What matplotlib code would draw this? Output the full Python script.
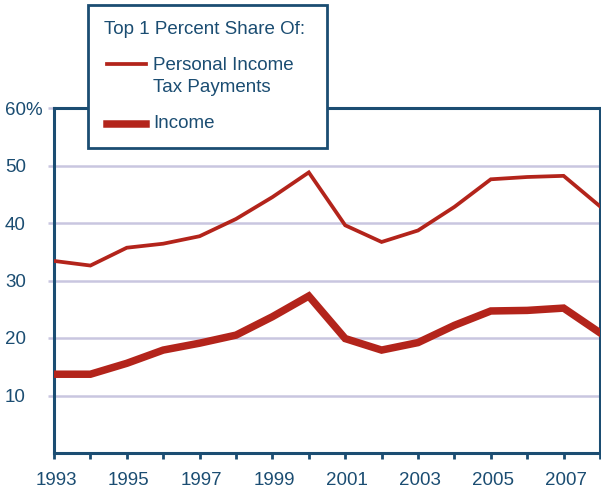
import matplotlib
matplotlib.use("Agg")
import matplotlib.pyplot as plt
import matplotlib.transforms as mtransforms
from matplotlib.lines import Line2D
from matplotlib.patches import Rectangle

plt.rcParams['font.family'] = ['Liberation Sans', 'DejaVu Sans']

years = list(range(1993, 2009))
tax_share = [33.4, 32.6, 35.7, 36.4, 37.7, 40.7, 44.5, 48.8,
             39.6, 36.7, 38.7, 42.8, 47.6, 48.0, 48.2, 42.9]
income_share = [13.7, 13.7, 15.6, 17.9, 19.1, 20.5, 23.7, 27.3,
                19.9, 17.9, 19.2, 22.2, 24.7, 24.8, 25.2, 20.9]
ytick_vals = [10, 20, 30, 40, 50, 60]
ytick_labels = ['10', '20', '30', '40', '50', '60%']

navy = '#1b4d72'
red = '#b3241b'
grid_c = '#c9c6e0'
fs = 13.5

fig = plt.figure(figsize=(6.01, 4.92), dpi=100)
ax = fig.add_axes([54 / 601, 39 / 492, 546 / 601, 345 / 492])

ax.plot(years, tax_share, color=red, lw=2.7, solid_joinstyle='miter', zorder=3)
ax.plot(years, income_share, color=red, lw=5.4, solid_joinstyle='miter', zorder=3)

ax.set_xlim(1993, 2008)
ax.set_ylim(0, 60)

for v in ytick_vals[:-1]:
    ax.axhline(v, color=grid_c, lw=1.8, zorder=1)

ax.set_xticks(years)
ax.set_xticklabels([str(y) if y % 2 == 1 else '' for y in years])
ax.set_yticks(ytick_vals)
ax.set_yticklabels(ytick_labels)
for lab in ax.get_yticklabels():
    lab.set_horizontalalignment('left')

ax.tick_params(axis='x', direction='out', length=4, width=2, color=navy,
               labelcolor=navy, labelsize=fs, pad=10)
ax.tick_params(axis='y', direction='out', length=4.5, width=1.8, color=grid_c,
               labelcolor=navy, labelsize=fs, pad=30.8)
ax.get_yticklines()[-2].set_color(navy)

# nudge year labels slightly right, as in the original
shift = mtransforms.ScaledTranslation(2 / 100, 0, fig.dpi_scale_trans)
for lab in ax.get_xticklabels():
    lab.set_transform(lab.get_transform() + shift)

for s in ax.spines.values():
    s.set_color(navy)
    s.set_linewidth(2.2)

# legend box
fig.patches.append(Rectangle((88 / 601, 1 - 148 / 492), (327 - 88) / 601, (148 - 5) / 492,
                             transform=fig.transFigure, facecolor='white',
                             edgecolor=navy, lw=2, zorder=5))
fig.text(104 / 601, 1 - 30 / 492, 'Top 1 Percent Share Of:', color=navy,
         fontsize=fs, va='center', ha='left', zorder=6)
fig.lines.append(Line2D([107 / 601, 146 / 601], [1 - 64 / 492, 1 - 64 / 492],
                        transform=fig.transFigure, color=red, lw=2.7, zorder=6))
fig.text(153 / 601, 1 - 65 / 492, 'Personal Income', color=navy,
         fontsize=fs, va='center', ha='left', zorder=6)
fig.text(153 / 601, 1 - 88 / 492, 'Tax Payments', color=navy,
         fontsize=fs, va='center', ha='left', zorder=6)
fig.lines.append(Line2D([107 / 601, 146 / 601], [1 - 124 / 492, 1 - 124 / 492],
                        transform=fig.transFigure, color=red, lw=5.4, zorder=6))
fig.text(153 / 601, 1 - 124 / 492, 'Income', color=navy,
         fontsize=fs, va='center', ha='left', zorder=6)

fig.savefig('out.png', dpi=100)
